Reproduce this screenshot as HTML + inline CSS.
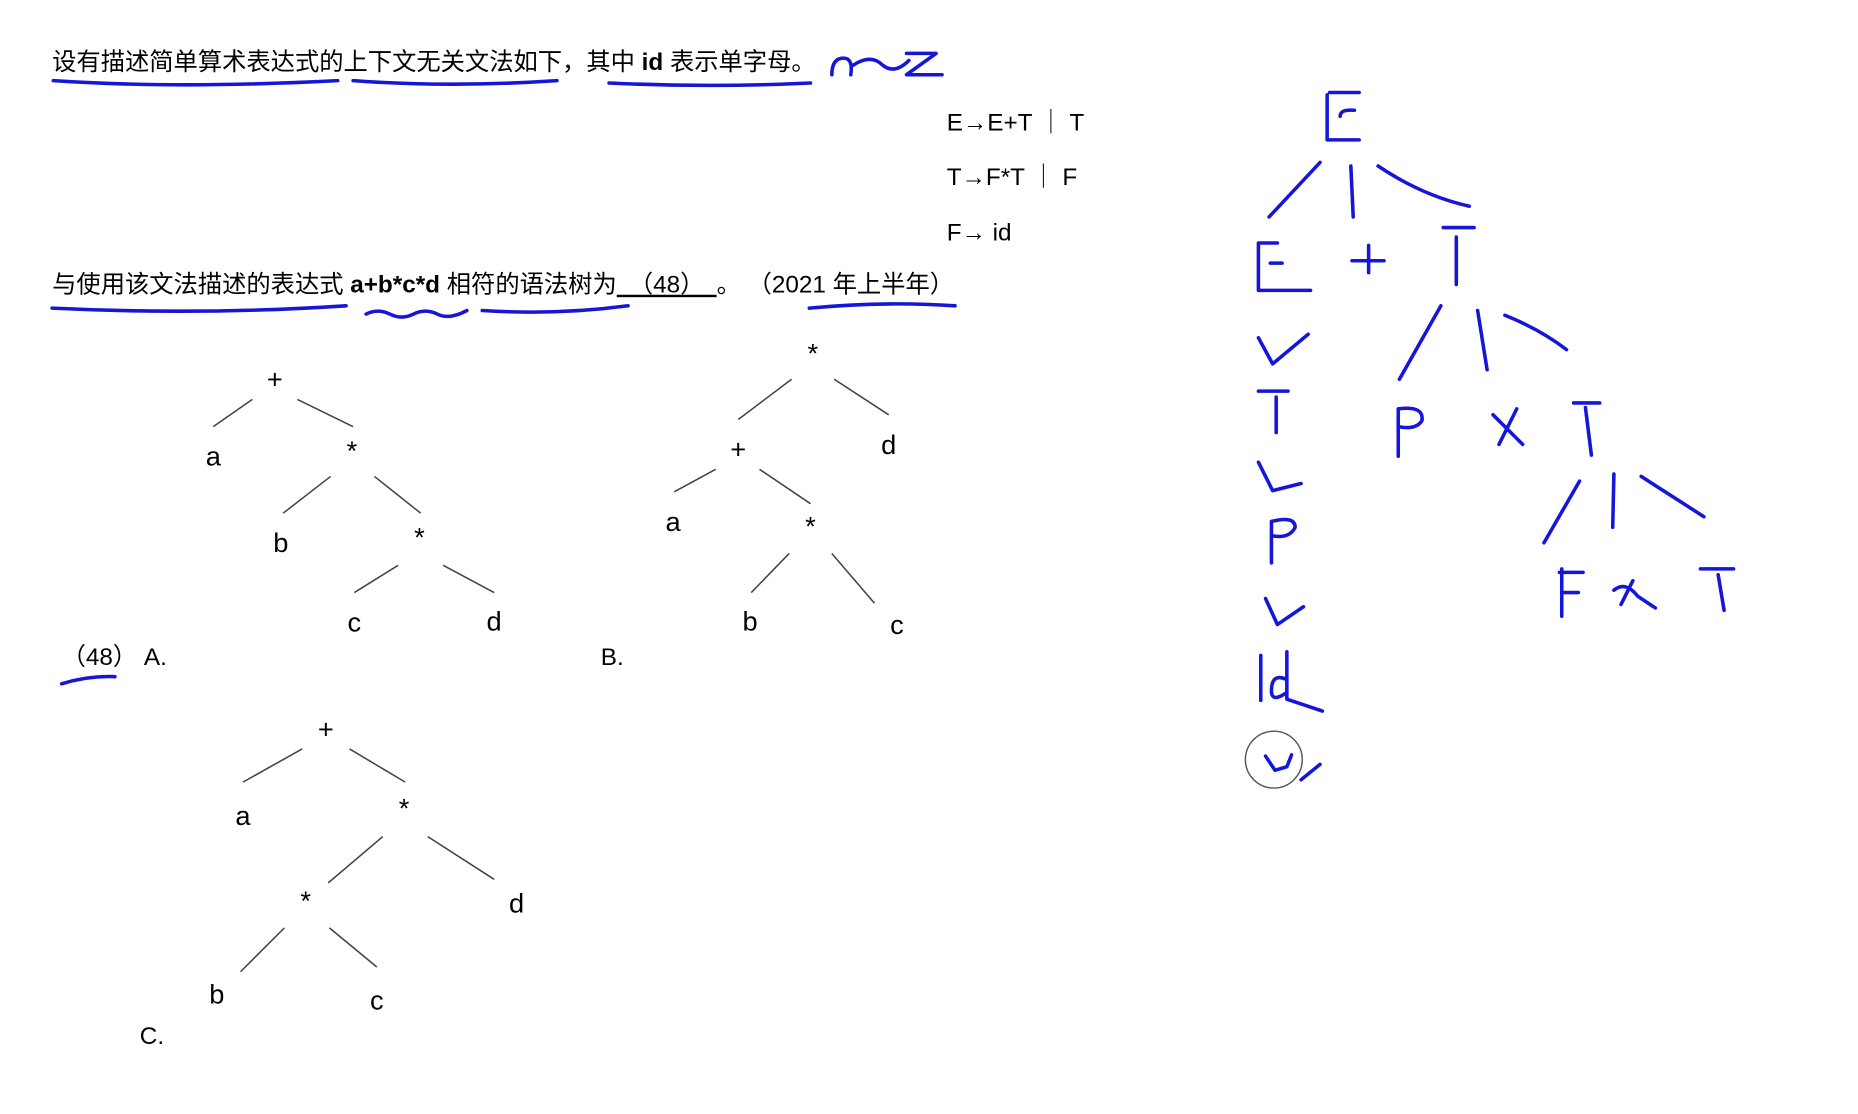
<!DOCTYPE html>
<html><head><meta charset="utf-8"><style>
html,body{margin:0;padding:0;background:#fff;}
svg{display:block;}
text{font-family:"Liberation Sans","Noto Sans CJK SC",sans-serif;fill:#000;}
.h{fill:none;stroke:#1616d8;stroke-width:3;stroke-linecap:round;stroke-linejoin:round;}
.l{stroke:#444;stroke-width:1.3;}
</style></head><body>
<svg width="1858" height="1114" viewBox="0 0 1568 940">
<rect width="1568" height="940" fill="#fff"/>
<g font-size="20.5">
<text x="44" y="59">设有描述简单算术表达式的上下文无关文法如下，其中 <tspan font-weight="bold">id</tspan> 表示单字母。</text>
<text x="799" y="110">E→E+T ｜ T</text>
<text x="799" y="156">T→F*T ｜ F</text>
<text x="799" y="203">F→  id</text>
<text x="44" y="247">与使用该文法描述的表达式 <tspan font-weight="bold">a+b*c*d</tspan> 相符的语法树为<tspan text-decoration="underline">　（48）　</tspan>。 （2021 年上半年）</text>
<text x="52" y="561">（48） A.</text>
<text x="507" y="561">B.</text>
<text x="118" y="881">C.</text>
</g>
<g font-size="23" text-anchor="middle">
<text x="232" y="328">+</text><text x="180" y="393">a</text><text x="297" y="388">*</text>
<text x="237" y="466">b</text><text x="354" y="461">*</text><text x="299" y="533">c</text><text x="417" y="532">d</text>
<line class="l" x1="213" y1="337" x2="180" y2="360"/><line class="l" x1="251" y1="337" x2="298" y2="360"/>
<line class="l" x1="279" y1="402" x2="239" y2="433"/><line class="l" x1="316" y1="402" x2="355" y2="433"/>
<line class="l" x1="336" y1="477" x2="299" y2="500"/><line class="l" x1="374" y1="477" x2="417" y2="500"/>
</g>
<g font-size="23" text-anchor="middle">
<text x="686" y="306">*</text><text x="623" y="387">+</text><text x="750" y="383">d</text>
<text x="568" y="448">a</text><text x="684" y="452">*</text><text x="633" y="532">b</text><text x="757" y="535">c</text>
<line class="l" x1="668" y1="320" x2="623" y2="354"/><line class="l" x1="704" y1="320" x2="750" y2="350"/>
<line class="l" x1="604" y1="396" x2="569" y2="415"/><line class="l" x1="641" y1="396" x2="684" y2="425"/>
<line class="l" x1="666" y1="467" x2="634" y2="500"/><line class="l" x1="702" y1="467" x2="738" y2="509"/>
</g>
<g font-size="23" text-anchor="middle">
<text x="275" y="623">+</text><text x="205" y="696">a</text><text x="341" y="690">*</text>
<text x="258" y="768">*</text><text x="436" y="770">d</text><text x="183" y="847">b</text><text x="318" y="852">c</text>
<line class="l" x1="255" y1="632" x2="205" y2="660"/><line class="l" x1="295" y1="632" x2="342" y2="660"/>
<line class="l" x1="323" y1="706" x2="277" y2="745"/><line class="l" x1="361" y1="706" x2="417" y2="742"/>
<line class="l" x1="240" y1="783" x2="203" y2="820"/><line class="l" x1="278" y1="783" x2="318" y2="816"/>
</g>
<g>
<path class="h" d="M45 68 Q150 75 285 68"/><path class="h" d="M298 68 Q380 74 470 68"/>
<path class="h" d="M514 70 Q600 74 684 70"/>
<path class="h" d="M702 63 q0 -14 10 -14 q8 0 6 14 M720 55 q15 -10 25 0 q10 8 22 -4 M765 45 h25 l-25 18 h30"/>
<path class="h" d="M44 260 Q170 266 292 258"/>
<path class="h" d="M309 265 q10 -5 20 0 q10 5 20 0 q10 -5 20 0 q10 5 25 -3"/>
<path class="h" d="M407 262 Q470 266 530 258"/><path class="h" d="M683 260 Q745 254 806 258"/>
<path class="h" d="M52 577 Q75 570 97 571"/>
</g>
<g>
<path class="h" d="M1120 80 v38 h27 M1122 78 h25 M1131 98 q0 -6 12 -5"/>
<path class="h" d="M1114 137 L1071 183 M1140 140 L1142 183 M1163 140 Q1200 165 1240 174"/>
<path class="h" d="M1062 205 v40 h44 M1063 205 h15 M1072 222 h10 M1141 220 h27 M1155 207 v23 M1218 192 h26 M1229 200 v40"/>
<path class="h" d="M1062 285 l12 22 l30 -25 M1062 330 h25 M1077 335 v30 M1062 390 l12 24 l24 -6"/>
<path class="h" d="M1073 440 v35 M1073 440 q20 -5 20 5 q-5 10 -20 7 M1068 505 l10 22 l22 -15"/>
<path class="h" d="M1064 553 v38 M1085 573 q-12 -5 -12 10 q0 10 12 2 M1086 550 v40 l30 10"/>
<path class="h" d="M1216 258 L1181 320 M1247 262 L1255 312 M1270 266 Q1300 278 1322 295"/>
<path class="h" d="M1180 345 v40 M1180 345 q22 -3 20 10 q-5 8 -20 5 M1260 350 l25 25 M1265 375 l15 -30 M1328 340 h22 M1338 344 l5 40"/>
<path class="h" d="M1333 406 L1303 458 M1362 400 L1361 445 M1385 402 L1438 436"/>
<path class="h" d="M1318 480 v40 M1316 483 h20 M1320 500 h12 M1362 498 q10 -8 20 5 l15 10 M1378 490 l-10 20 M1435 480 h28 M1450 485 l5 30"/>
<circle cx="1075" cy="641" r="24" fill="none" stroke="#555" stroke-width="1.2"/>
<path class="h" d="M1068 638 l8 12 l10 -3 l4 -10 M1098 658 l16 -13"/>
</g>
</svg>
</body></html>
